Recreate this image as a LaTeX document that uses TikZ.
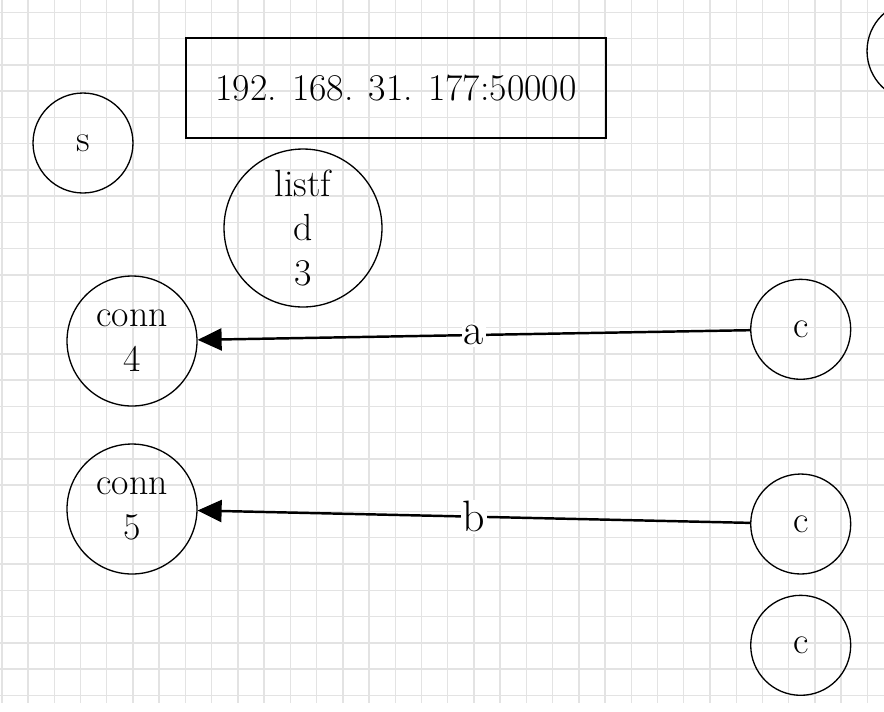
\documentclass[tikz,border=0pt]{standalone}
\usetikzlibrary{arrows.meta}

\begin{document}
\begin{tikzpicture}[x=0.02cm, y=-0.02cm,
    gridline/.style={draw=gray!22, line width=0.8pt},
    sock/.style={draw, circle, line width=0.75pt, inner sep=0pt, align=center,
        font=\fontsize{21.5}{25.5}\selectfont},
    small/.style={sock, minimum size=2cm},
    big/.style={sock, minimum size=2.6cm},
    addrbox/.style={draw, rectangle, line width=0.75pt, minimum width=8.4cm,
        minimum height=2cm, font=\fontsize{21.5}{25.5}\selectfont},
    link/.style={line width=1.4pt, -{Triangle[length=0.48cm, width=0.44cm]}},
    elabel/.style={fill=white, inner sep=1pt, font=\fontsize{25}{30}\selectfont}]

    \useasboundingbox (0,0) rectangle (884,711);
    \clip (0,0) rectangle (884,711);

    % background grid
    \foreach \i in {0,...,33}
        \draw[gridline] ({1.8+26.23*\i},0) -- ({1.8+26.23*\i},703);
    \foreach \j in {0,...,26}
        \draw[gridline] (0,{12.3+26.27*\j}) -- (884,{12.3+26.27*\j});

    \node[addrbox] (addr) at (396,88) {192. 168. 31. 177:50000};

    \node[small] (s) at (83,143) {s};
    \node[sock, minimum size=3.16cm] (listenfd) at (303,228) {listf\\d\\3};
    \node[big] (conn4) at (132,341) {conn\\4};
    \node[big] (conn5) at (132,509) {conn\\5};

    \node[small] (c1) at (800.7,329.3) {c};
    \node[small] (c2) at (800.7,524) {c};
    \node[small] (c3) at (800.7,645.3) {c};
    \node[small] (peer) at (917,51) {};

    \draw[link] (c1) -- node[elabel] {a} (conn4);
    \draw[link] (c2) -- node[elabel] {b} (conn5);
\end{tikzpicture}
\end{document}
